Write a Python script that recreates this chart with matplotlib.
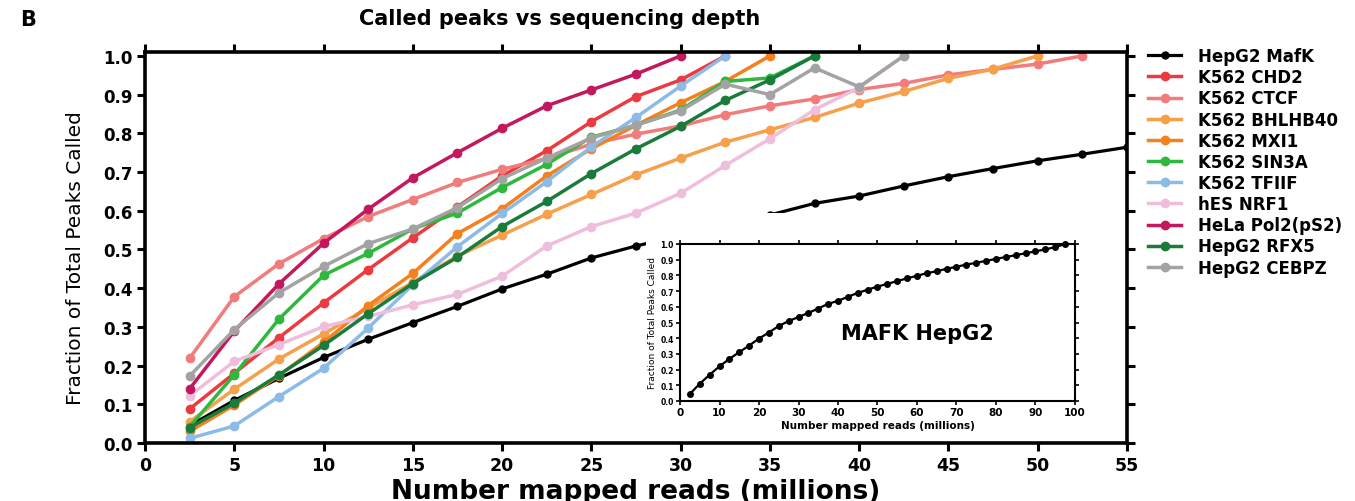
import numpy as np
import matplotlib
matplotlib.use("Agg")
import matplotlib.pyplot as plt
from matplotlib.patches import Rectangle

plt.rcParams['font.family'] = ['DejaVu Sans']

# x positions (millions of mapped reads), every series sampled at 2.5M steps
step = 2.5

# HepG2 MafK goes to 100M (shown whole in the inset, cut at 55M in the main plot)
mafk = [0.045, 0.11, 0.167, 0.221, 0.268, 0.311, 0.353, 0.398, 0.436, 0.478,
        0.509, 0.535, 0.561, 0.589, 0.619, 0.638, 0.664, 0.688, 0.709, 0.729,
        0.746, 0.764, 0.781, 0.798, 0.814, 0.827, 0.842, 0.855, 0.869, 0.88,
        0.893, 0.905, 0.917, 0.929, 0.941, 0.953, 0.966, 0.98, 1.0]
chd2 = [0.088, 0.18, 0.272, 0.362, 0.448, 0.53, 0.61, 0.69, 0.755, 0.83, 0.895, 0.938, 1.0]
ctcf = [0.219, 0.378, 0.463, 0.528, 0.585, 0.629, 0.673, 0.707, 0.735, 0.772, 0.798,
        0.819, 0.848, 0.871, 0.889, 0.913, 0.929, 0.951, 0.965, 0.979, 1.0]
bhlhb40 = [0.055, 0.139, 0.217, 0.282, 0.349, 0.415, 0.483, 0.537, 0.591, 0.642,
           0.693, 0.736, 0.777, 0.809, 0.841, 0.878, 0.908, 0.942, 0.966, 1.0]
mxi1 = [0.03, 0.098, 0.174, 0.26, 0.355, 0.438, 0.541, 0.605, 0.69, 0.76, 0.821, 0.879, 0.934, 1.0]
sin3a = [0.042, 0.176, 0.32, 0.433, 0.49, 0.553, 0.594, 0.66, 0.72, 0.79, 0.821,
         0.86, 0.934, 0.943, 1.0]
tfiif = [0.012, 0.044, 0.12, 0.193, 0.297, 0.409, 0.507, 0.593, 0.675, 0.765, 0.841, 0.922, 1.0]
nrf1 = [0.122, 0.211, 0.254, 0.301, 0.327, 0.357, 0.384, 0.431, 0.509, 0.559, 0.594,
        0.645, 0.717, 0.786, 0.861, 0.918, 1.0]
pol2 = [0.14, 0.289, 0.411, 0.516, 0.604, 0.685, 0.75, 0.813, 0.871, 0.912, 0.953, 1.0]
rfx5 = [0.04, 0.103, 0.176, 0.252, 0.334, 0.412, 0.48, 0.559, 0.624, 0.696, 0.76,
        0.818, 0.885, 0.938, 1.0]
cebpz = [0.173, 0.293, 0.388, 0.456, 0.515, 0.553, 0.608, 0.683, 0.736, 0.788, 0.821,
         0.858, 0.927, 0.9, 0.969, 0.92, 1.0]

labels = ["HepG2 MafK", "K562 CHD2", "K562 CTCF", "K562 BHLHB40", "K562 MXI1",
          "K562 SIN3A", "K562 TFIIF", "hES NRF1", "HeLa Pol2(pS2)", "HepG2 RFX5",
          "HepG2 CEBPZ"]
series = [mafk, chd2, ctcf, bhlhb40, mxi1, sin3a, tfiif, nrf1, pol2, rfx5, cebpz]
colors = ["#000000", "#ec3b40", "#f27b7b", "#f7a04c", "#f5801e", "#2fb83e",
          "#8cbbe8", "#f0bedd", "#c4185e", "#1a7c3a", "#a3a3a3"]

fig = plt.figure(figsize=(13.55, 5.02), dpi=100)

ax = fig.add_axes([0.1070, 0.1155, 0.7247, 0.7789])
ax.set_zorder(0)
for lab, vals, c in zip(labels, series, colors):
    x = step * np.arange(1, len(vals) + 1)
    if lab == "HepG2 MafK":
        ax.plot(x, vals, '-o', color=c, lw=2.3, ms=5, label=lab)
    else:
        ax.plot(x, vals, '-o', color=c, lw=2.5, ms=6, label=lab)

ax.set_xlim(0, 55)
ax.set_ylim(0, 1.01)
ax.set_xticks(np.arange(0, 56, 5))
ax.set_yticks(np.arange(0, 1.01, 0.1))
ax.set_yticklabels(["%.1f" % v for v in np.arange(0, 1.01, 0.1)], fontweight='bold', fontsize=12)
ax.set_xticklabels([str(v) for v in range(0, 56, 5)], fontweight='bold', fontsize=12.5)
ax.tick_params(direction='out', length=6, width=2.2, top=True, right=True,
               labeltop=False, labelright=False, pad=3)
for s in ax.spines.values():
    s.set_linewidth(2.6)
ax.set_xlabel("Number mapped reads (millions)", fontsize=19, fontweight='bold', labelpad=3)
ax.set_ylabel("Fraction of Total Peaks Called", fontsize=14.5)
ax.yaxis.set_label_coords(-0.061, 0.475)

fig.text(0.413, 0.962, "Called peaks vs sequencing depth", fontsize=15,
         fontweight='bold', ha='center', va='center')
fig.text(0.015, 0.96, "B", fontsize=15, fontweight='bold', ha='left', va='center')

fig.legend(loc='upper left', bbox_to_anchor=(1148 / 1355, 1 - 48 / 502),
           frameon=False, handlelength=2.0, handletextpad=1.0,
           labelspacing=0.19, borderaxespad=0, borderpad=0,
           prop={'weight': 'bold', 'size': 12})

# white card behind the inset (hides part of the main plot, as in the original)
fig.add_artist(Rectangle((646 / 1355, 1 - 441 / 502), (1088 - 646) / 1355,
                         (441 - 214) / 502, transform=fig.transFigure,
                         facecolor='white', edgecolor='none', zorder=1))

ins = fig.add_axes([680 / 1355, 1 - 402 / 502, 395 / 1355, 157 / 502])
ins.set_zorder(2)
xm = step * np.arange(1, len(mafk) + 1)
ins.plot(xm, mafk, '-o', color='black', lw=1.6, ms=4, clip_on=False)
ins.set_xlim(0, 100)
ins.set_ylim(0, 1.0)
ins.set_xticks(np.arange(0, 101, 10))
ins.set_yticks(np.arange(0, 1.01, 0.1))
ins.set_xticklabels([str(v) for v in range(0, 101, 10)], fontweight='bold', fontsize=7.5)
ins.set_yticklabels(["%.1f" % v for v in np.arange(0, 1.01, 0.1)], fontweight='bold', fontsize=5.5)
ins.tick_params(direction='out', length=3, width=1.2, top=True, right=True,
                labeltop=False, labelright=False, pad=1.5)
for s in ins.spines.values():
    s.set_linewidth(1.5)
ins.set_xlabel("Number mapped reads (millions)", fontsize=7.5, fontweight='bold', labelpad=2)
ins.set_ylabel("Fraction of Total Peaks Called", fontsize=6.5, labelpad=2)
ins.text(60, 0.43, "MAFK HepG2", fontsize=15, fontweight='bold', ha='center', va='center')

fig.savefig("out.png", dpi=100)
